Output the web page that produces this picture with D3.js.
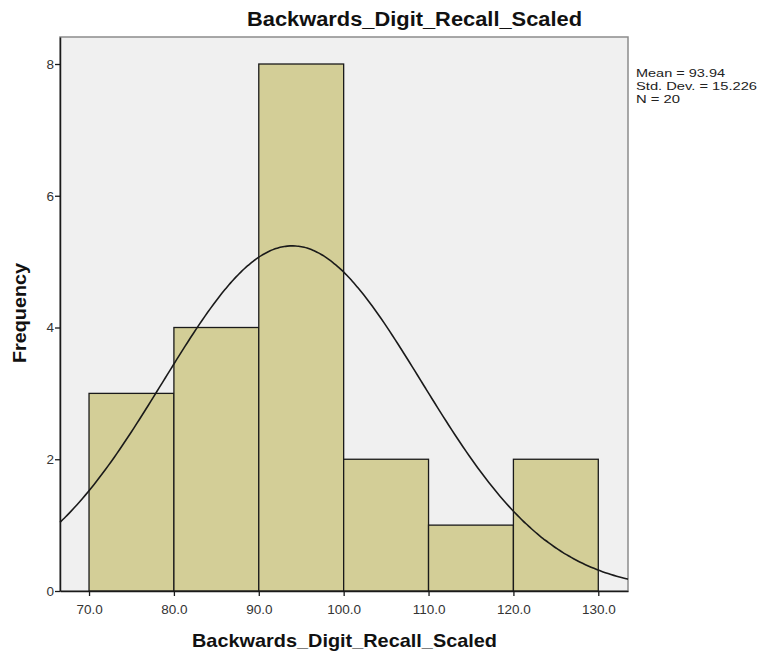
<!DOCTYPE html>
<html>
<head>
<meta charset="utf-8">
<script src="https://cdn.jsdelivr.net/npm/d3@7"></script>
<style>
  body { margin: 0; background: #fff; }
  text { font-family: "Liberation Sans", Arial, sans-serif; }
</style>
</head>
<body>
<div id="chart"></div>
<script>
// histogram data
var binStarts = [70, 80, 90, 100, 110, 120];
var binWidth = 10;
var counts = [3, 4, 8, 2, 1, 2];
var xTicks = [70, 80, 90, 100, 110, 120, 130];
var yTicks = [0, 2, 4, 6, 8];
var mean = 93.94, sd = 15.226, n = 20;
var statLines = ['Mean = 93.94', 'Std. Dev. = 15.226', 'N = 20'];

var W = 759, H = 655;
var m = {left: 60, top: 37, right: 131, bottom: 64};

var svg = d3.select('#chart').append('svg')
  .attr('width', W).attr('height', H);

var x = d3.scaleLinear().domain([66.58, 133.5]).range([m.left, W - m.right]);
var y = d3.scaleLinear().domain([0, 8.41]).range([H - m.bottom, m.top]);

// plot background
svg.append('rect')
  .attr('x', m.left).attr('y', m.top)
  .attr('width', W - m.right - m.left).attr('height', H - m.bottom - m.top)
  .style('fill', '#f0f0f0')
  .style('stroke', '#8c8c8c').style('stroke-width', 1.5);

// bars
svg.selectAll('rect.bar').data(binStarts).join('rect')
  .attr('class', 'bar')
  .attr('x', d => x(d))
  .attr('y', (d, i) => y(counts[i]))
  .attr('width', d => x(d + binWidth) - x(d))
  .attr('height', (d, i) => y(0) - y(counts[i]))
  .style('fill', '#d3ce97')
  .style('stroke', '#1a1a1a').style('stroke-width', 1.3);

// normal curve
var pts = d3.range(0, 201).map(i => 66.58 + i * (133.5 - 66.58) / 200);
var line = d3.line()
  .x(d => x(d))
  .y(d => y(n * binWidth * Math.exp(-0.5 * Math.pow((d - mean) / sd, 2)) / (sd * Math.sqrt(2 * Math.PI))))
  .curve(d3.curveBasis);
svg.append('path').datum(pts)
  .attr('d', line)
  .style('fill', 'none').style('stroke', '#1a1a1a').style('stroke-width', 1.6);

// axes
var xAxis = svg.append('g')
  .attr('transform', 'translate(0,' + (H - m.bottom) + ')')
  .call(d3.axisBottom(x).tickValues(xTicks).tickFormat(d3.format('.1f')).tickSize(5).tickSizeOuter(0));
var yAxis = svg.append('g')
  .attr('transform', 'translate(' + m.left + ',0)')
  .call(d3.axisLeft(y).tickValues(yTicks).tickSize(5).tickSizeOuter(0));

[xAxis, yAxis].forEach(function (g) {
  g.select('.domain').style('stroke', '#1a1a1a').style('stroke-width', 1.5);
  g.selectAll('.tick line').style('stroke', '#1a1a1a').style('stroke-width', 1.3);
  g.selectAll('.tick text').style('font-size', '13.5px').style('fill', '#333')
    .style('font-family', '"Liberation Sans", Arial, sans-serif');
});
xAxis.selectAll('.tick text').attr('dy', '1.1em');
yAxis.selectAll('.tick text').attr('x', -6);

// titles
svg.append('text')
  .attr('x', 414.5).attr('y', 26)
  .attr('text-anchor', 'middle')
  .attr('textLength', 335).attr('lengthAdjust', 'spacingAndGlyphs')
  .style('font-size', '19.5px').style('font-weight', 'bold').style('fill', '#111')
  .text('Backwards_Digit_Recall_Scaled');
svg.append('text')
  .attr('x', 344.5).attr('y', 647)
  .attr('text-anchor', 'middle')
  .attr('textLength', 305).attr('lengthAdjust', 'spacingAndGlyphs')
  .style('font-size', '19px').style('font-weight', 'bold').style('fill', '#111')
  .text('Backwards_Digit_Recall_Scaled');
svg.append('text')
  .attr('transform', 'translate(26,313) rotate(-90)')
  .attr('text-anchor', 'middle')
  .attr('textLength', 100).attr('lengthAdjust', 'spacingAndGlyphs')
  .style('font-size', '18px').style('font-weight', 'bold').style('fill', '#111')
  .text('Frequency');

// stats box
var statWidths = [89, 121, 44];
svg.selectAll('text.stat').data(statLines).join('text')
  .attr('class', 'stat')
  .attr('x', 636).attr('y', (d, i) => 77 + i * 13)
  .attr('textLength', (d, i) => statWidths[i]).attr('lengthAdjust', 'spacingAndGlyphs')
  .style('font-size', '11.5px').style('fill', '#222')
  .text(d => d);
</script>
</body>
</html>
